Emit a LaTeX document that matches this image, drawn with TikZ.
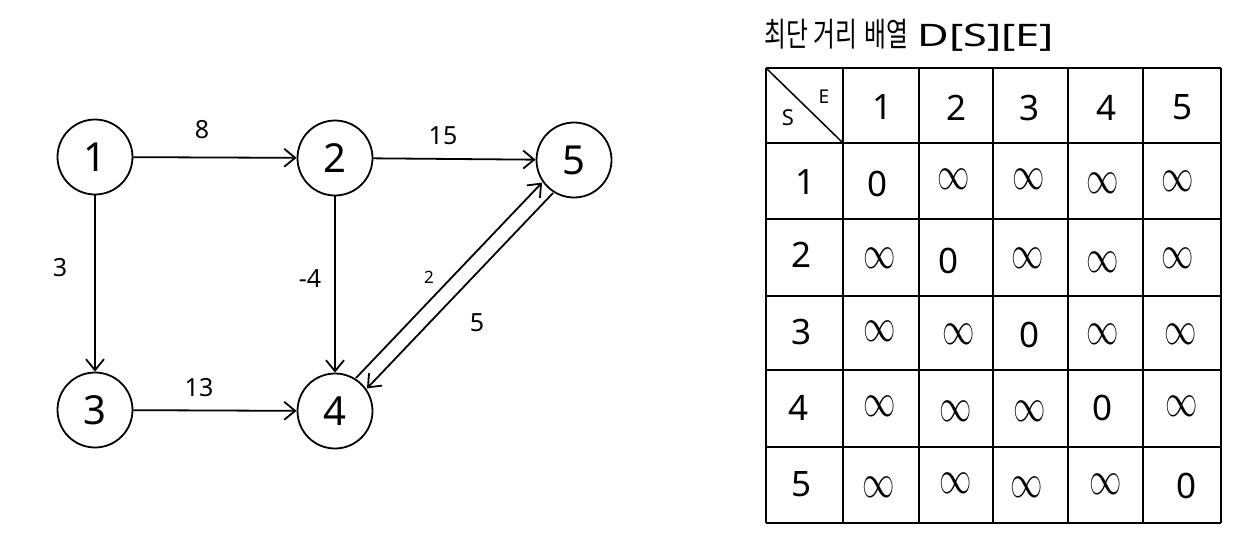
\documentclass[tikz,border=0pt]{standalone}
\usepackage{fontspec}
\setmainfont{Noto Sans}
\newfontfamily\krfont{Noto Sans CJK KR}
\usetikzlibrary{arrows.meta}
\newcommand{\infsym}{\scalebox{1.3}[1.9]{$\infty$}}
\begin{document}
\begin{tikzpicture}[x=1pt,y=-1pt,
  vtx/.style={circle,draw,line width=1.8pt,minimum size=75pt,inner sep=0pt,font=\fontsize{40}{40}\selectfont},
  arr/.style={line width=1.8pt,-{Straight Barb[length=11pt,width=18pt]}},
  elab/.style={inner sep=0pt,font=\fontsize{25}{25}\selectfont},
  grid/.style={line width=1.8pt},
  hd/.style={inner sep=0pt,font=\fontsize{35}{35}\selectfont},
  inf/.style={inner sep=0pt,font=\fontsize{24}{24}\selectfont},
  zero/.style={inner sep=0pt,font=\fontsize{35}{35}\selectfont}
]
\useasboundingbox (0,0) rectangle (1258,552);

% graph
\node[vtx] (n1) at (95,157) {1};
\node[vtx] (n2) at (335,158) {2};
\node[vtx] (n5) at (574,160) {5};
\node[vtx] (n3) at (95,410) {3};
\node[vtx] (n4) at (335,411) {4};

\draw[arr] (n1) -- (n2);
\draw[arr] (n2) -- (n5);
\draw[arr] (n1) -- (n3);
\draw[arr] (n2) -- (n4);
\draw[arr] (n3) -- (n4);
\draw[arr,transform canvas={shift={(-5.5,-5.2)}}] (n4) -- (n5);
\draw[arr,transform canvas={shift={(5.5,5.2)}}] (n5) -- (n4);

\node[elab] (l12) at (202,130) {8};
\node[elab] (l25) at (443,136) {15};
\node[elab] (l13) at (60,268) {3};
\node[elab] (l24) at (310,279) {-4};
\node[elab] (l34) at (199,388) {13};
\node[elab,font=\fontsize{17}{17}\selectfont] (l45) at (429,277) {2};
\node[elab] (l54) at (477,323) {5};

% title
\node[anchor=west,inner sep=0pt] (title) at (764,35)
  {\scalebox{0.72}[1]{\krfont\fontsize{33}{33}\selectfont 최단\hspace{8pt}거리\hspace{10pt}배열}\hspace{9pt}\scalebox{1.4}[1]{\fontsize{31}{31}\selectfont D[S][E]}};

% table grid
\foreach \x in {766,843,919,993,1068,1143,1221}
  \draw[grid] (\x,68) -- (\x,523);
\foreach \y in {68,143,219,296,370,447,523}
  \draw[grid] (766,\y) -- (1221,\y);
\draw[line width=1.5pt] (766,68) -- (843,143);
\node[inner sep=0pt,font=\fontsize{19}{19}\selectfont] (hE) at (824,97) {E};
\node[inner sep=0pt,font=\fontsize{22}{22}\selectfont] (hS) at (788,118) {S};

% header row
\node[hd] (c1) at (882,107) {1};
\node[hd] (c2) at (956,108) {2};
\node[hd] (c3) at (1029,108) {3};
\node[hd] (c4) at (1106,108) {4};
\node[hd] (c5) at (1182,107) {5};

% row labels
\node[hd] (r1) at (805,182) {1};
\node[hd] (r2) at (802,255) {2};
\node[hd] (r3) at (802,332) {3};
\node[hd] (r4) at (798,408) {4};
\node[hd] (r5) at (801,484) {5};

% row 1
\node[zero] (v11) at (877,184) {0};
\node[inf] (v12) at (954,179) {\infsym};
\node[inf] (v13) at (1029,179) {\infsym};
\node[inf] (v14) at (1103,183) {\infsym};
\node[inf] (v15) at (1178,181) {\infsym};
% row 2
\node[inf] (v21) at (880,258) {\infsym};
\node[zero] (v22) at (948,261) {0};
\node[inf] (v23) at (1028,258) {\infsym};
\node[inf] (v24) at (1103,262) {\infsym};
\node[inf] (v25) at (1178,258) {\infsym};
% row 3
\node[inf] (v31) at (880,331) {\infsym};
\node[inf] (v32) at (959,334) {\infsym};
\node[zero] (v33) at (1029,335) {0};
\node[inf] (v34) at (1103,334) {\infsym};
\node[inf] (v35) at (1181,334) {\infsym};
% row 4
\node[inf] (v41) at (880,406) {\infsym};
\node[inf] (v42) at (956,411) {\infsym};
\node[inf] (v43) at (1030,411) {\infsym};
\node[zero] (v44) at (1102,408) {0};
\node[inf] (v45) at (1182,406) {\infsym};
% row 5
\node[inf] (v51) at (879,487) {\infsym};
\node[inf] (v52) at (956,483) {\infsym};
\node[inf] (v53) at (1027,487) {\infsym};
\node[inf] (v54) at (1106,484) {\infsym};
\node[zero] (v55) at (1186,486) {0};
\end{tikzpicture}
\end{document}
